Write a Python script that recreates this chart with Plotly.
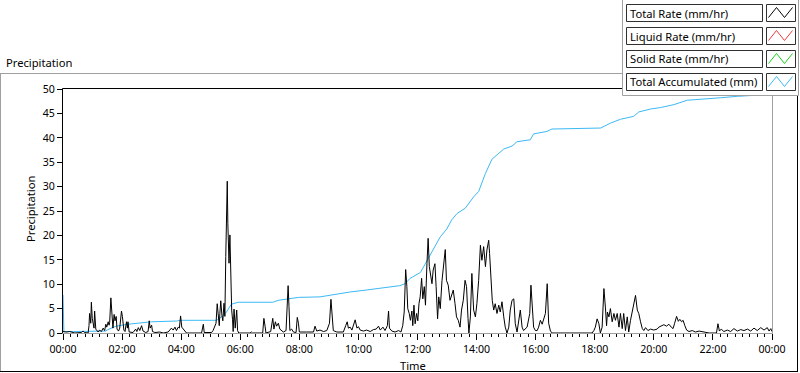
import plotly.graph_objects as go

# ---------------- data ----------------
rate_hours = [
    0.0, 0.11, 0.23, 0.34, 0.4, 0.62, 0.68, 0.73, 0.85, 0.88, 0.9, 0.94, 0.96, 0.99,
    1.02, 1.05, 1.07, 1.11, 1.19, 1.24, 1.3, 1.36, 1.41, 1.45, 1.48, 1.53, 1.56, 1.58,
    1.62, 1.64, 1.67, 1.69, 1.73, 1.76, 1.8, 1.83, 1.88, 1.92, 1.98, 2.01, 2.06, 2.1,
    2.15, 2.18, 2.2, 2.24, 2.37, 2.46, 2.5, 2.55, 2.6, 2.66, 2.71, 2.8, 2.88, 2.92,
    2.95, 3.0, 3.03, 3.11, 3.28, 3.39, 3.56, 3.67, 3.73, 3.79, 3.84, 3.9, 3.94, 3.98,
    4.02, 4.07, 4.12, 4.18, 4.69, 4.75, 4.78, 5.03, 5.08, 5.14, 5.18, 5.22, 5.25, 5.29,
    5.31, 5.34, 5.38, 5.41, 5.45, 5.48, 5.51, 5.54, 5.56, 5.58, 5.62, 5.65, 5.68, 5.71,
    5.74, 5.76, 5.79, 5.83, 5.88, 5.91, 5.95, 6.33, 6.38, 6.42, 6.76, 6.8, 6.84, 6.87,
    7.03, 7.06, 7.1, 7.14, 7.19, 7.23, 7.29, 7.34, 7.4, 7.46, 7.55, 7.58, 7.62, 7.65,
    7.68, 7.74, 7.8, 7.89, 7.93, 7.97, 8.0, 8.25, 8.48, 8.53, 8.59, 8.7, 8.82, 8.93,
    9.02, 9.07, 9.12, 9.15, 9.27, 9.49, 9.57, 9.62, 9.66, 9.72, 9.78, 9.83, 9.89, 9.95,
    10.0, 10.06, 10.17, 10.28, 10.4, 10.51, 10.6, 10.68, 10.74, 10.83, 10.9, 10.98, 11.02, 11.05,
    11.13, 11.24, 11.36, 11.44, 11.5, 11.55, 11.6, 11.64, 11.67, 11.72, 11.76, 11.81, 11.84, 11.88,
    11.92, 11.97, 12.01, 12.05, 12.09, 12.14, 12.18, 12.23, 12.27, 12.32, 12.36, 12.4, 12.44, 12.49,
    12.53, 12.59, 12.63, 12.68, 12.72, 12.77, 12.83, 12.88, 12.94, 12.98, 13.04, 13.1, 13.15, 13.21,
    13.27, 13.32, 13.38, 13.44, 13.49, 13.55, 13.61, 13.66, 13.71, 13.74, 13.79, 13.84, 13.9, 13.96,
    14.01, 14.07, 14.13, 14.18, 14.24, 14.3, 14.35, 14.41, 14.44, 14.49, 14.53, 14.58, 14.63, 14.69,
    14.75, 14.8, 14.86, 14.92, 14.97, 15.03, 15.09, 15.14, 15.2, 15.26, 15.31, 15.37, 15.42, 15.48,
    15.54, 15.59, 15.71, 15.8, 15.84, 15.89, 15.93, 15.99, 16.05, 16.1, 16.16, 16.22, 16.27, 16.33,
    16.39, 16.44, 16.5, 16.56, 17.91, 17.97, 18.02, 18.08, 18.14, 18.19, 18.25, 18.31, 18.36, 18.4,
    18.43, 18.48, 18.53, 18.59, 18.65, 18.7, 18.76, 18.82, 18.87, 18.93, 18.98, 19.04, 19.1, 19.15,
    19.21, 19.27, 19.32, 19.38, 19.44, 19.49, 19.55, 19.61, 19.66, 19.72, 19.8, 19.89, 20.0, 20.11,
    20.17, 20.25, 20.34, 20.43, 20.51, 20.59, 20.65, 20.7, 20.77, 20.83, 20.88, 20.94, 20.99, 21.05,
    21.11, 21.19, 21.3, 21.41, 21.53, 21.7, 21.81, 21.87, 22.12, 22.17, 22.22, 22.28, 22.37, 22.49,
    22.6, 22.71, 22.83, 22.94, 23.05, 23.17, 23.28, 23.39, 23.5, 23.62, 23.73, 23.79, 23.84, 23.9,
    23.96, 24.0,
]
rate_values = [
    0.3, 0.2, 0.3, 0.2, 0.0, 0.1, 0.4, 0.1, 0.0, 1.5, 4.0, 2.0, 6.3, 3.0,
    1.3, 1.0, 4.5, 0.8, 0.2, 0.6, 0.3, 1.0, 0.5, 1.8, 1.2, 2.3, 1.6, 2.2,
    7.2, 4.7, 2.7, 1.0, 3.8, 2.5, 3.4, 0.8, 0.4, 1.0, 4.5, 3.4, 0.6, 0.3,
    2.3, 1.0, 2.3, 0.2, 0.1, 0.8, 0.3, 1.1, 0.5, 1.5, 0.4, 0.1, 0.3, 2.5,
    1.0, 1.6, 0.3, 0.1, 0.2, 0.0, 0.2, 1.0, 0.6, 1.2, 0.5, 1.2, 1.0, 3.5,
    1.2, 0.8, 0.3, 0.0, 0.0, 1.8, 0.1, 0.1, 0.5, 1.2, 2.0, 6.0, 3.4, 1.5,
    4.0, 6.6, 3.6, 2.5, 6.1, 3.4, 15.7, 22.5, 31.1, 22.5, 14.3, 20.1, 9.5, 4.7,
    2.7, 0.3, 4.9, 1.0, 4.7, 0.5, 0.0, 0.0, 0.2, 0.0, 0.0, 3.0, 1.4, 0.0,
    0.3, 1.6, 3.0, 0.8, 2.3, 1.4, 2.0, 0.8, 0.5, 0.2, 0.5, 4.4, 9.7, 5.4,
    0.5, 0.8, 0.2, 0.1, 3.2, 2.0, 0.2, 0.2, 0.2, 1.4, 0.4, 0.6, 0.3, 0.5,
    2.0, 6.9, 3.3, 0.5, 0.2, 0.2, 1.5, 2.3, 1.0, 1.2, 0.6, 1.5, 2.7, 1.0,
    1.3, 0.6, 0.4, 0.6, 0.3, 0.7, 0.8, 1.4, 0.6, 1.2, 0.5, 1.5, 4.5, 1.0,
    0.4, 0.2, 0.5, 0.2, 1.5, 4.3, 13.0, 9.5, 5.0, 4.0, 2.6, 4.5, 1.5, 5.7,
    1.9, 4.0, 2.5, 6.0, 7.4, 11.2, 7.0, 9.5, 5.7, 14.2, 19.4, 13.6, 11.5, 10.1,
    12.9, 14.2, 9.5, 2.9, 7.4, 5.0, 10.8, 13.2, 17.1, 10.8, 9.8, 6.7, 7.7, 8.8,
    6.0, 3.3, 2.6, 1.2, 4.7, 6.7, 10.8, 9.5, 3.0, 0.0, 3.3, 12.2, 4.7, 3.3,
    6.0, 10.8, 18.0, 14.9, 17.7, 13.6, 17.0, 19.0, 16.3, 9.5, 6.7, 4.7, 6.0, 4.0,
    5.7, 4.3, 6.4, 3.3, 1.2, 0.0, 1.2, 4.7, 6.7, 7.0, 1.9, 0.2, 2.6, 4.7,
    1.2, 0.5, 1.2, 4.0, 9.8, 6.0, 1.2, 0.5, 0.5, 1.2, 2.6, 1.8, 2.9, 4.0,
    10.1, 2.0, 0.4, 0.0, 0.0, 0.5, 1.2, 2.9, 1.9, 0.0, 1.2, 9.1, 5.3, 1.5,
    4.3, 3.3, 5.0, 2.3, 4.0, 2.6, 4.0, 1.2, 4.0, 0.9, 4.0, 0.5, 3.3, 0.2,
    2.6, 4.7, 6.0, 7.7, 4.7, 4.0, 2.3, 0.9, 0.5, 1.1, 0.5, 0.8, 0.6, 0.8,
    1.2, 1.5, 1.7, 1.4, 1.8, 1.2, 0.9, 1.9, 3.4, 2.4, 2.8, 2.3, 2.6, 1.5,
    0.6, 0.3, 0.5, 0.2, 0.4, 0.2, 0.1, 0.0, 0.0, 1.9, 0.4, 0.8, 0.3, 0.6,
    0.3, 0.9, 0.4, 0.7, 0.5, 0.8, 0.4, 1.0, 0.5, 1.1, 0.6, 0.8, 1.1, 0.4,
    0.9, 0.3,
]

acc_hours = [
    0.0, 0.01, 0.03, 0.35, 1.0, 1.45, 1.5, 1.62, 1.8, 2.2, 2.66, 3.0, 3.84, 4.0,
    5.2, 5.3, 5.5, 5.62, 5.7, 5.93, 7.1, 7.29, 7.57, 7.97, 8.7, 9.15, 9.71, 10.26,
    10.85, 11.4, 11.58, 11.75, 12.1, 12.3, 12.54, 12.77, 12.99, 13.16, 13.34, 13.62, 13.9, 14.07,
    14.3, 14.52, 14.69, 14.92, 15.2, 15.37, 15.82, 15.93, 16.38, 16.55, 18.2, 18.53, 18.87, 19.32,
    19.49, 19.89, 20.23, 20.68, 21.13, 21.7, 22.26, 22.83, 23.22, 23.62, 24.0,
]
acc_values = [
    7.8, 3.5, 0.3, 0.3, 0.3, 0.4, 0.65, 0.95, 1.4, 1.8, 2.0, 2.3, 2.45, 2.6,
    2.6, 3.0, 4.0, 5.0, 5.9, 6.3, 6.3, 6.7, 7.0, 7.3, 7.4, 7.9, 8.4, 8.8,
    9.2, 9.7, 10.1, 11.2, 12.4, 14.6, 17.0, 19.7, 21.3, 23.2, 24.5, 25.6, 27.9, 29.0,
    32.7, 35.6, 36.5, 37.7, 38.3, 39.2, 39.6, 40.8, 41.3, 41.8, 42.0, 43.0, 43.8, 44.4,
    45.3, 45.9, 46.2, 46.8, 47.7, 47.9, 48.2, 48.5, 48.6, 48.8, 48.9,
]

tick_hours = list(range(0, 25, 2))
tick_labels = ["00:00", "02:00", "04:00", "06:00", "08:00", "10:00", "12:00",
               "14:00", "16:00", "18:00", "20:00", "22:00", "00:00"]
y_ticks = list(range(0, 51, 5))

legend_names = ["Total Rate (mm/hr)", "Liquid Rate (mm/hr)",
                "Solid Rate (mm/hr)", "Total Accumulated (mm)"]
legend_colors = ["#000000", "#F03C3C", "#1ED21E", "#3CB9F5"]

# ---------------- layout helpers ----------------
W, H = 800, 373
L, R, T, B = 63, 772, 89, 333
FONT = "Noto Sans"
TXT = 11.2
TICK = 10.6


def px(x):
    return (x - L) / (R - L)


def py(y):
    return (B - y) / (B - T)


shapes = []


def seg(x0, y0, x1, y1, color):
    shapes.append(dict(type="line", xref="paper", yref="paper",
                       x0=px(x0), y0=py(y0), x1=px(x1), y1=py(y1),
                       line=dict(color=color, width=1), layer="above"))


def box(x0, y0, x1, y1, line_color, fill="white"):
    shapes.append(dict(type="rect", xref="paper", yref="paper",
                       x0=px(x0), y0=py(y0), x1=px(x1), y1=py(y1),
                       line=dict(color=line_color, width=1), fillcolor=fill,
                       layer="above"))


fig = go.Figure()
fig.add_trace(go.Scatter(x=acc_hours, y=acc_values, mode="lines",
                         line=dict(color=legend_colors[3], width=1),
                         name=legend_names[3], showlegend=False))
fig.add_trace(go.Scatter(x=rate_hours, y=rate_values, mode="lines",
                         line=dict(color=legend_colors[0], width=1),
                         name=legend_names[0], showlegend=False))

# outer frame
seg(0, 73.5, 622, 73.5, "#A0A0A0")
seg(0.5, 73, 0.5, 372, "#A0A0A0")
seg(0, 371.5, 798, 371.5, "#000000")
seg(797.5, 95, 797.5, 372, "#000000")

# plot area borders
seg(L - 0.5, T - 0.5, R, T - 0.5, "#000000")
seg(L - 0.5, T - 0.5, L - 0.5, B + 0.5, "#000000")
seg(L - 0.5, B + 0.5, R + 0.5, B + 0.5, "#A0A0A0")
seg(R + 0.5, T - 0.5, R + 0.5, B + 0.5, "#A0A0A0")

# legend panel
box(622.5, -1, 798.5, 95.5, "#A0A0A0")
annotations = []
row_tops = [4.5, 27.5, 50.5, 73.5]
for name, color, top in zip(legend_names, legend_colors, row_tops):
    box(626.5, top, 762.5, top + 17, "#303030")
    box(766.5, top, 795.5, top + 17, "#303030")
    xs = [768.5, 776.5, 784.5, 792.5]
    ys = [top + 13, top + 3, top + 13, top + 3]
    path = "M " + " L ".join(f"{px(a)},{py(b)}" for a, b in zip(xs, ys))
    shapes.append(dict(type="path", xref="paper", yref="paper", path=path,
                       line=dict(color=color, width=1), layer="above"))
    annotations.append(dict(text=name, x=px(628), y=py(top + 8.5),
                            xref="paper", yref="paper", xanchor="left",
                            yanchor="middle", showarrow=False,
                            font=dict(family=FONT, size=TXT, color="#000")))

# titles
annotations.append(dict(text="Precipitation", x=px(4), y=py(62), xref="paper",
                        yref="paper", xanchor="left", yanchor="middle",
                        showarrow=False,
                        font=dict(family=FONT, size=TXT, color="#000")))
annotations.append(dict(text="Precipitation", x=px(30), y=py(209), xref="paper",
                        yref="paper", xanchor="center", yanchor="middle",
                        textangle=-90, showarrow=False,
                        font=dict(family=FONT, size=TXT, color="#000")))
annotations.append(dict(text="Time", x=px(413), y=py(365), xref="paper",
                        yref="paper", xanchor="center", yanchor="middle",
                        showarrow=False,
                        font=dict(family=FONT, size=TXT, color="#000")))

fig.update_layout(
    width=W, height=H, autosize=False,
    margin=dict(l=L, r=W - R, t=T, b=H - B, pad=0),
    paper_bgcolor="white", plot_bgcolor="white",
    showlegend=False, hovermode=False,
    shapes=shapes, annotations=annotations,
    xaxis=dict(range=[0, 24], tickmode="array", tickvals=tick_hours,
               ticktext=tick_labels, ticks="outside", ticklen=6,
               tickcolor="#000", tickwidth=1, showgrid=False, zeroline=False,
               showline=False,
               minor=dict(dtick=0.25, ticks="outside", ticklen=3,
                          tickcolor="#000", tickwidth=1, showgrid=False),
               tickfont=dict(family=FONT, size=TICK, color="#000")),
    yaxis=dict(range=[0, 50], tickmode="array", tickvals=y_ticks,
               ticks="outside", ticklen=5, tickcolor="#000", tickwidth=1,
               showgrid=False, zeroline=False, showline=False,
               tickfont=dict(family=FONT, size=TICK, color="#000")),
)

fig.write_html("out.html",
               config={"displayModeBar": False, "staticPlot": True},
               post_script="document.body.style.margin='0';"
                           "document.body.style.overflow='hidden';")
